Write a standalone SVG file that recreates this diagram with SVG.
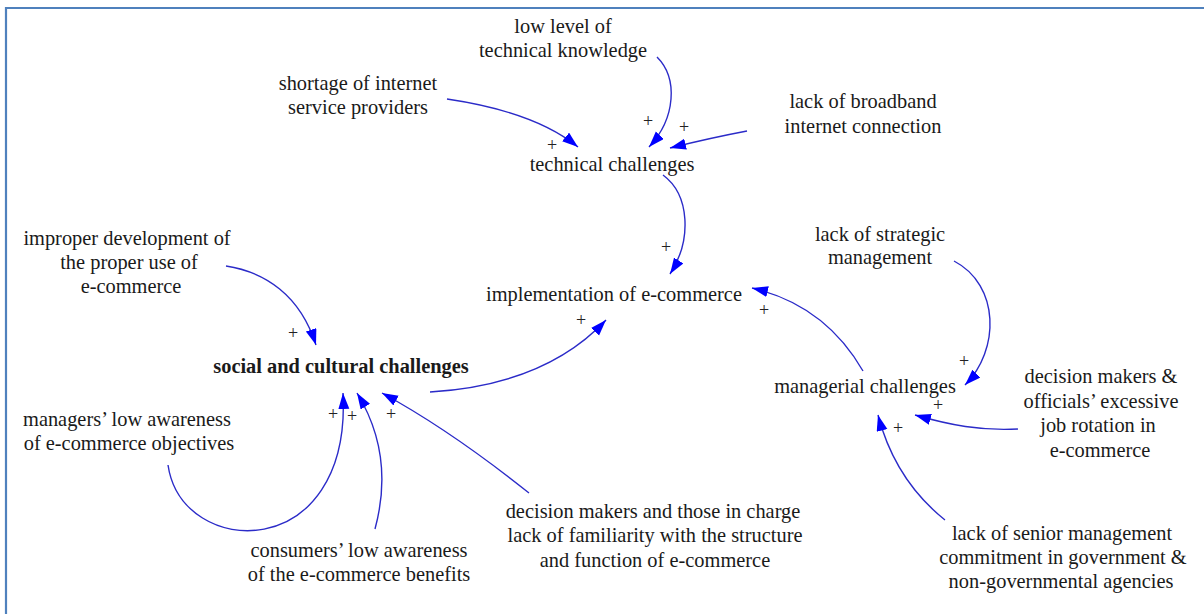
<svg xmlns="http://www.w3.org/2000/svg" width="1204" height="614" viewBox="0 0 1204 614">
  <style>
    .lbl { font-family: 'Liberation Serif', 'DejaVu Serif', serif; font-size: 20.4px; fill: #1a1a1a; text-anchor: middle; }
    .bold { font-weight: bold; }
    .sign { font-family: 'Liberation Serif', 'DejaVu Serif', serif; font-size: 18px; fill: #222; text-anchor: middle; }
    .link { fill: none; stroke: #2b2bc8; stroke-width: 1.4; marker-end: url(#head); }
  </style>
  <defs>
    <marker id="head" markerUnits="userSpaceOnUse" markerWidth="18" markerHeight="12" refX="16" refY="5.5" orient="auto">
      <path d="M0,0 L16,5.5 L0,11 Z" fill="#0000ff"/>
    </marker>
  </defs>

  <rect x="0" y="0" width="1204" height="614" fill="#ffffff"/>

  <!-- frame -->
  <g id="frame" stroke="#4f81bd" stroke-width="2.2" fill="none">
    <line x1="5" y1="8" x2="1204" y2="8"/>
    <line x1="6" y1="7" x2="6" y2="614"/>
  </g>

  <!-- connectors -->
  <g id="connectors">
    <path class="link" d="M447,99 Q535,112 578,147"/>
    <path class="link" d="M657,57 C678,78 676,118 649,147"/>
    <path class="link" d="M747,131 Q710,138 670,148"/>
    <path class="link" d="M663,175 C690,195 692,240 670,274"/>
    <path class="link" d="M430,392 Q545,385 606,320"/>
    <path class="link" d="M863,371 Q825,305 752,288"/>
    <path class="link" d="M954,261 C1000,285 1000,350 965,385"/>
    <path class="link" d="M1018,429 C980,431 950,425 915,415"/>
    <path class="link" d="M945,520 Q895,480 878,415"/>
    <path class="link" d="M226,266 C265,272 300,295 316,345"/>
    <path class="link" d="M168,465 C182,560 352,565 343,393"/>
    <path class="link" d="M375,529 Q395,455 357,393"/>
    <path class="link" d="M529,493 Q450,430 382,393"/>
  </g>

  <!-- polarity signs -->
  <g id="signs">
    <text class="sign" x="552" y="151">+</text>
    <text class="sign" x="648" y="127">+</text>
    <text class="sign" x="684" y="133">+</text>
    <text class="sign" x="666" y="253">+</text>
    <text class="sign" x="581" y="326">+</text>
    <text class="sign" x="764" y="316">+</text>
    <text class="sign" x="964" y="367">+</text>
    <text class="sign" x="938" y="411">+</text>
    <text class="sign" x="898" y="434">+</text>
    <text class="sign" x="293" y="339">+</text>
    <text class="sign" x="333" y="420">+</text>
    <text class="sign" x="352" y="422">+</text>
    <text class="sign" x="391" y="420">+</text>
  </g>

  <!-- nodes -->
  <g id="low-technical-knowledge">
    <text class="lbl" x="563" y="33">low level of</text>
    <text class="lbl" x="563" y="57">technical knowledge</text>
  </g>
  <g id="shortage-isp">
    <text class="lbl" x="358" y="90">shortage of internet</text>
    <text class="lbl" x="358" y="114">service providers</text>
  </g>
  <g id="lack-broadband">
    <text class="lbl" x="863" y="108">lack of broadband</text>
    <text class="lbl" x="863" y="133">internet connection</text>
  </g>
  <g id="technical-challenges">
    <text class="lbl" x="612" y="171">technical challenges</text>
  </g>
  <g id="implementation">
    <text class="lbl" x="614" y="301">implementation of e-commerce</text>
  </g>
  <g id="improper-development">
    <text class="lbl" x="127" y="245">improper development of</text>
    <text class="lbl" x="129" y="269">the proper use of</text>
    <text class="lbl" x="131" y="293">e-commerce</text>
  </g>
  <g id="social-cultural-challenges">
    <text class="lbl bold" x="341" y="373">social and cultural challenges</text>
  </g>
  <g id="managers-awareness">
    <text class="lbl" x="127" y="426">managers’ low awareness</text>
    <text class="lbl" x="129" y="450">of e-commerce objectives</text>
  </g>
  <g id="consumers-awareness">
    <text class="lbl" x="359" y="557">consumers’ low awareness</text>
    <text class="lbl" x="359" y="581">of the e-commerce benefits</text>
  </g>
  <g id="decision-makers-familiarity">
    <text class="lbl" x="653" y="518">decision makers and those in charge</text>
    <text class="lbl" x="655" y="542">lack of familiarity with the structure</text>
    <text class="lbl" x="655" y="567">and function of e-commerce</text>
  </g>
  <g id="strategic-management">
    <text class="lbl" x="880" y="241">lack of strategic</text>
    <text class="lbl" x="880" y="264">management</text>
  </g>
  <g id="managerial-challenges">
    <text class="lbl" x="865" y="393">managerial challenges</text>
  </g>
  <g id="job-rotation">
    <text class="lbl" x="1101" y="383">decision makers &amp;</text>
    <text class="lbl" x="1101" y="408">officials’ excessive</text>
    <text class="lbl" x="1098" y="432">job rotation in</text>
    <text class="lbl" x="1100" y="457">e-commerce</text>
  </g>
  <g id="senior-commitment">
    <text class="lbl" x="1062" y="540">lack of senior management</text>
    <text class="lbl" x="1063" y="564">commitment in government &amp;</text>
    <text class="lbl" x="1061" y="588">non-governmental agencies</text>
  </g>
</svg>
